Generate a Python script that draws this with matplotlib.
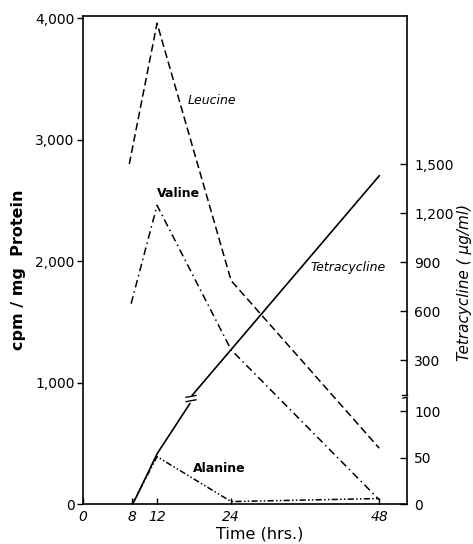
import matplotlib
matplotlib.use("Agg")
import matplotlib.pyplot as plt

# amino acid incorporation, cpm/mg protein
leucine_hrs = [7.5, 12, 24, 48]
leucine_cpm = [2800, 3960, 1840, 460]
valine_hrs = [7.8, 12, 24, 48]
valine_cpm = [1650, 2460, 1270, 35]
alanine_hrs = [8, 12, 24, 48]
alanine_cpm = [0, 390, 20, 45]

# tetracycline, ug/ml (lower and upper part of the broken axis)
tetra_low_hrs = [8, 8.6, 12, 17.3]
tetra_low_val = [0, 7, 54, 108]
tetra_up_hrs = [17.7, 48]
tetra_up_val = [85, 1430]

left_ticks = [0, 1000, 2000, 3000, 4000]
left_labels = ['0', '1,000', '2,000', '3,000', '4,000']
x_ticks = [0, 8, 12, 24, 48]
right_low_ticks = [0, 50, 100]
right_up_ticks = [300, 600, 900, 1200, 1500]


# right scale -> left scale units
def low_to_left(v):
    return v * 7.65


def up_to_left(v):
    return 1185 + (v - 300) * 1.344


plt.rcParams['font.family'] = ['DejaVu Sans']

fig = plt.figure(figsize=(4.73, 5.44), dpi=100)
ax = fig.add_axes([83 / 473, 40 / 544, 324 / 473, 488 / 544])
ax.set_xlim(0, 52.5)
ax.set_ylim(0, 4020)

lw = 1.1
ax.plot(leucine_hrs, leucine_cpm, color='black', lw=lw, linestyle=(0, (5, 2.5)))
ax.plot(valine_hrs, valine_cpm, color='black', lw=lw, linestyle=(0, (5, 2.5, 1, 2.5)))
ax.plot(alanine_hrs, alanine_cpm, color='black', lw=lw,
        linestyle=(0, (4, 1.5, 1, 1.5, 1, 1.5)))

low_y = [low_to_left(v) for v in tetra_low_val]
up_y = [up_to_left(v) for v in tetra_up_val]
ax.plot(tetra_low_hrs, low_y, color='black', lw=1.2)
ax.plot(tetra_up_hrs, up_y, color='black', lw=1.2)

# break marks on the tetracycline line
bx = (tetra_low_hrs[-1] + tetra_up_hrs[0]) / 2
by = (low_y[-1] + up_y[0]) / 2
for dy in (-18, 18):
    ax.plot([bx - 0.8, bx + 0.8], [by + dy, by + dy + 15], color='black', lw=1.0)

# right axis drawn in two pieces
ax.spines['right'].set_visible(False)
for sp in ('left', 'bottom', 'top'):
    ax.spines[sp].set_linewidth(1.2)
ytr = ax.get_yaxis_transform()
ax.plot([1, 1], [0, 872], transform=ytr, color='black', lw=1.2, clip_on=False)
ax.plot([1, 1], [897, 4020], transform=ytr, color='black', lw=1.2, clip_on=False)
ax.plot([0.985, 1], [897, 897], transform=ytr, color='black', lw=1.0, clip_on=False)
ax.plot([0.988, 1.0], [872, 880], transform=ytr, color='black', lw=1.0, clip_on=False)

ax.set_yticks(left_ticks)
ax.set_yticklabels(left_labels)
ax.set_xticks(x_ticks)
ax.set_xticklabels([str(t) for t in x_ticks], fontstyle='italic')
ax.tick_params(axis='y', direction='out', length=4, width=1, pad=2, labelsize=10)
ax.tick_params(axis='x', direction='in', length=4, width=1, pad=4, labelsize=10)

ax2 = ax.twinx()
ax2.set_ylim(ax.get_ylim())
r_pos = [low_to_left(v) for v in right_low_ticks] + [up_to_left(v) for v in right_up_ticks]
r_lab = ['0', '50', '100', '300', '600', '900', '1,200', '1,500']
ax2.set_yticks(r_pos)
ax2.set_yticklabels(r_lab)
ax2.tick_params(axis='y', direction='in', length=5, width=1, pad=5, labelsize=10)
for sp in ax2.spines.values():
    sp.set_visible(False)

ax.set_xlabel('Time (hrs.)', fontsize=11.5)
ax.xaxis.set_label_coords(0.546, -0.047)
ax.set_ylabel('cpm / mg  Protein', fontsize=11.5, fontweight='bold',
              va='center', ha='center')
ax.yaxis.set_label_coords(-0.198, 0.48)
ax2.set_ylabel('Tetracycline ( \u03bcg/ml)', fontsize=11, fontstyle='italic',
               rotation=90, va='center', ha='center')
ax2.yaxis.set_label_coords(1.178, 0.455)

ax.text(17.0, 3320, 'Leucine', fontsize=9, fontstyle='italic', va='center')
ax.text(12.0, 2560, 'Valine', fontsize=9, fontweight='bold', va='center')
ax.text(36.8, 1950, 'Tetracycline', fontsize=9, fontstyle='italic', va='center')
ax.text(17.8, 295, 'Alanine', fontsize=9, fontweight='bold', va='center')

fig.savefig('out.png', dpi=100)
